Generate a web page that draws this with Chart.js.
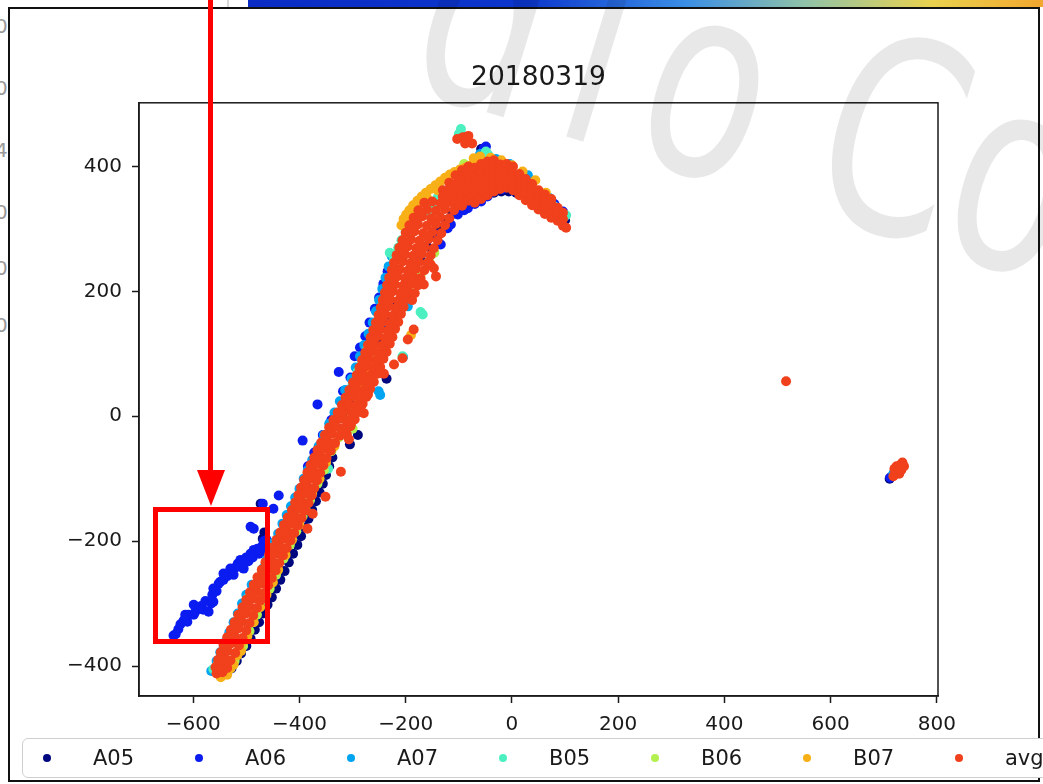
<!DOCTYPE html>
<html>
<head>
<meta charset="utf-8">
<title>20180319</title>
<script src="https://cdn.jsdelivr.net/npm/chart.js@4.4.0/dist/chart.umd.min.js"></script>
<style>
  html, body { margin: 0; padding: 0; background: #fff; }
  #page { position: relative; width: 1043px; height: 784px; overflow: hidden; background: #fff; font-family: "DejaVu Sans", sans-serif; }
  #topbar { position: absolute; left: 248px; top: 0; width: 795px; height: 7px;
    background: linear-gradient(to right, #0a2cc4 0%, #0c36cc 35%, #3a8ee6 55%, #8fc2a8 70%, #ead24e 86%, #f2a62e 100%); }
  #topline { position: absolute; left: 227px; top: 0; width: 2px; height: 7px; background: #d8d8d8; }
  #frame { position: absolute; left: 8px; top: 7px; width: 1032px; height: 775px; box-sizing: border-box; border: 2px solid #111; }
  .edge { position: absolute; left: -5px; color: #9a9a9a; font-size: 20px; line-height: 20px; }
  #chart { position: absolute; left: 0; top: 0; }
  #legend { position: absolute; left: 22px; top: 738px; width: 1060px; height: 40px; box-sizing: border-box;
    border: 1.5px solid #cfcfcf; border-radius: 6px; background: #fff; }
  .item { position: absolute; top: 0; height: 38px; line-height: 38px; font-size: 21px; color: #1a1a1a; }
  .dot { position: absolute; width: 8px; height: 8px; border-radius: 50%; top: 15px; }
  #overlay { position: absolute; left: 0; top: 0; pointer-events: none; }
</style>
</head>
<body>
<div id="page">
  <div id="topline"></div>
  <div id="topbar"></div>
  <div class="edge" style="top:16px">0</div>
  <div class="edge" style="top:78px">0</div>
  <div class="edge" style="top:140px">4</div>
  <div class="edge" style="top:202px">0</div>
  <div class="edge" style="top:258px">0</div>
  <div class="edge" style="top:315px">0</div>
  <div id="frame"></div>
  <canvas id="chart" width="1043" height="784"></canvas>
  <div id="legend"></div>
  <svg id="overlay" width="1043" height="784">
    <text transform="translate(401,86) rotate(17) scale(0.73,1)" font-family="DejaVu Sans" font-size="270" fill="rgba(0,0,0,0.09)">d<tspan dx="40">i</tspan><tspan dx="35">o Co</tspan></text>
    <line x1="210.5" y1="0" x2="210.5" y2="474" stroke="#ff0000" stroke-width="5"/>
    <polygon points="197,470 225,470 211,506" fill="#ff0000"/>
    <rect x="155.5" y="509.5" width="112" height="132" fill="none" stroke="#ff0000" stroke-width="5"/>
  </svg>
</div>
<script>
const chartTitle = '20180319';
const seriesNames = ['A05', 'A06', 'A07', 'B05', 'B06', 'B07', 'avg'];
const seriesColors = ['#00087f', '#0a1cf0', '#00a4f0', '#4cf0c0', '#b4f050', '#f8b018', '#f0401c'];
const xTicks = [-600, -400, -200, 0, 200, 400, 600, 800];
const yTicks = [-400, -200, 0, 200, 400];
const xMin = -702, xMax = 802;
const yMin = -448, yMax = 502;

const a05Pts = [
  [-528,-404],[-518,-392],[-510,-380],[-500,-368],[-492,-356],[-484,-342],[-476,-330],[-468,-316],[-460,-302],[-452,-290],
  [-444,-276],[-436,-262],[-428,-248],[-420,-234],[-412,-220],[-404,-206],[-397,-192],[-390,-178],[-383,-164],[-376,-150],
  [-369,-136],[-362,-122],[-356,-108],[-350,-94],[-344,-80],[-338,-66],[-318,-20],[-306,0],[-296,18],[-284,38],
  [-272,58],[-262,78],[-252,98],[-243,118],[-234,138],[-226,158],[-216,178],[-206,198],[-196,218],[-184,238],
  [-172,256],[-160,272],[-148,288],[-136,302],[-124,314],[-112,324],[-100,332],[-88,338],[-76,344],[-62,350],
  [-48,356],[-34,358],[-20,360],[-6,360],[8,358],[22,356],[36,352],[50,346],[64,338],[78,330],[92,320],[100,314],
  [-473,-140],[-469,-196],[-466,-186],[-305,-45],[-290,-30],[-236,60],[-86,440],[-58,428],
  [711,-100],[716,-96],[722,-92],[728,-88],[734,-82]
];
const a06Pts = [
  [-637,-351],[-628,-341],[-633,-349],[-624,-333],[-618,-327],[-611,-329],[-609,-318],[-615,-318],[-599,-318],[-596,-313],
  [-599,-302],[-592,-308],[-585,-304],[-581,-310],[-577,-296],[-571,-313],[-566,-300],[-562,-297],[-564,-286],[-562,-276],
  [-556,-280],[-552,-268],[-549,-265],[-543,-262],[-543,-252],[-536,-256],[-530,-250],[-530,-244],[-524,-254],[-520,-242],
  [-516,-236],[-511,-241],[-511,-230],[-505,-232],[-505,-244],[-500,-226],[-496,-232],[-492,-220],[-488,-226],[-486,-214],
  [-479,-212],[-476,-220],[-473,-217],[-470,-208],[-467,-200],[-464,-206],[-462,-198],
  [-492,-177],[-486,-180],[-469,-140],[-449,-148],[-439,-127],[-394,-39],[-366,19],
  [-384,-80],[-372,-58],[-356,-30],[-340,-6],[-326,71],[-318,40],[-304,62],[-296,96],[-286,110],[-276,128],
  [-268,150],[-258,172],[-250,190],[-242,212],[-234,232],
  [-134,275],[-138,291],[-121,301],[-115,307],[-102,323],[-90,330],[-83,333],[-70,340],[-58,344],[-46,352],
  [-34,360],[-18,364],[2,362],[23,365],[36,360],[49,360],[62,350],[80,340],[96,328],[-49,432],[-53,429],
  [712,-98],[720,-90]
];
const a07Pts = [
  [-566,-408],[-556,-392],[-549,-378],[-540,-362],[-532,-346],[-524,-330],[-516,-316],[-508,-300],[-500,-286],[-490,-270],
  [-469,-244],[-462,-230],[-455,-216],[-448,-202],[-440,-188],[-432,-172],[-424,-158],[-416,-144],[-408,-130],[-400,-116],
  [-392,-100],[-384,-86],[-376,-70],[-364,-48],[-354,-30],[-344,-12],[-334,6],[-324,24],[-314,42],[-302,60],
  [-294,78],[-286,96],[-278,114],[-270,132],[-262,150],[-256,168],[-250,186],[-244,204],[-238,222],[-232,240],[-226,256],
  [-196,176],[-251,40],[-248,34],[-205,95],[-178,210],
  [-96,452],[-60,420],[-30,412],[-4,404],[30,386],[70,350],[98,320],
  [718,-92]
];
const b05Pts = [
  [-230,262],[-222,253],[-214,270],[-208,282],[-200,296],[-191,306],[-182,316],[-160,326],[-150,340],[-140,350],
  [-562,-405],[-552,-398],[-544,-384],[-498,-292],[-484,-276],[-476,-262],[-446,-210],[-420,-166],[-404,-136],[-380,-92],
  [-366,-64],[-350,-36],[-338,-16],[-310,30],[-300,50],[-290,72],[-282,88],[-272,108],[-262,128],[-250,160],[-244,178],[-238,196],
  [-168,163],[-172,167],[-280,30],[-206,96],
  [-96,460],[-49,424],[-44,418],[-100,452],[97,318],[102,322],[80,336],
  [-455,-260],[-440,-236],[-398,-156],[-346,-84],
  [724,-88]
];
const b06Pts = [
  [-540,-412],[-530,-404],[-522,-392],[-506,-368],[-494,-344],[-480,-318],[-466,-294],[-456,-276],[-444,-254],[-430,-228],
  [-418,-206],[-406,-184],[-394,-160],[-380,-134],[-366,-108],[-354,-86],[-340,-56],[-326,-34],[-310,-8],[-296,14],
  [-282,36],[-268,58],[-256,84],[-244,106],[-232,126],[-222,146],[-210,168],[-196,190],[-184,212],[-170,230],[-156,248],[-146,262],
  [-270,44],[-300,-20],
  [-90,404],[-40,392],[10,372],[60,340],
  [726,-84]
];
const b07Pts = [
  [-208,306],[-204,316],[-199,323],[-193,330],[-186,338],[-178,345],[-170,352],[-162,358],[-153,364],[-144,370],
  [-135,376],[-126,382],[-117,387],[-108,391],[-98,395],[-88,398],[-78,401],[-66,405],[-55,408],
  [-200,312],[-190,326],[-180,336],[-160,350],[-140,362],[-120,378],
  [-72,413],[-60,416],[-40,414],[-20,410],[0,402],[20,392],[44,378],[64,358],
  [-554,-398],[-543,-410],[-548,-418],[-536,-414],[-530,-404],[-524,-398],[-517,-383],[-510,-376],[-508,-362],
  [-498,-352],[-486,-330],[-474,-306],[-462,-286],[-450,-266],[-440,-246],[-426,-222],[-414,-198],[-400,-174],[-388,-150],
  [-376,-124],[-362,-100],[-350,-74],[-334,-48],[-318,-24],[-302,0],[-288,24],[-276,48],[-264,70],[-252,94],
  [-240,114],[-230,132],[-218,152],
  [-190,130],[-175,220],
  [730,-80]
];
const avgPts = [
  [-556,-412],[-545,-410],
  [-558,-402],[-546,-400],[-536,-403],
  [-553,-390],[-541,-388],[-530,-391],
  [-548,-378],[-535,-376],[-521,-379],
  [-543,-366],[-529,-364],[-514,-367],
  [-536,-354],[-522,-352],[-507,-355],
  [-529,-342],[-515,-340],[-500,-343],
  [-522,-330],[-508,-329],[-494,-331],
  [-515,-318],[-501,-316],[-487,-319],
  [-507,-306],[-494,-305],[-480,-307],
  [-500,-294],[-487,-292],[-473,-295],
  [-493,-282],[-480,-281],[-466,-283],
  [-486,-270],[-472,-268],[-459,-271],
  [-479,-258],[-465,-257],[-452,-259],
  [-471,-246],[-458,-244],[-445,-247],
  [-464,-234],[-451,-233],[-438,-235],
  [-457,-222],[-444,-220],[-431,-223],
  [-450,-210],[-437,-209],[-424,-211],
  [-443,-198],[-430,-196],[-417,-199],
  [-436,-186],[-423,-185],[-410,-187],
  [-429,-174],[-416,-172],[-403,-175],
  [-422,-162],[-409,-161],[-396,-163],
  [-414,-150],[-402,-148],[-389,-151],
  [-408,-138],[-396,-137],[-383,-139],
  [-402,-126],[-390,-124],[-377,-127],
  [-397,-114],[-385,-113],[-372,-115],
  [-391,-102],[-379,-100],[-367,-103],
  [-385,-90],[-373,-89],[-361,-91],
  [-379,-78],[-367,-76],[-355,-79],
  [-372,-66],[-361,-65],[-349,-67],
  [-366,-54],[-354,-52],[-341,-55],
  [-359,-42],[-347,-41],[-333,-43],
  [-352,-30],[-339,-28],[-324,-31],[-311,-29],
  [-344,-18],[-331,-17],[-316,-19],[-304,-16],
  [-336,-6],[-322,-4],[-309,-7],[-296,-5],
  [-328,6],[-315,8],[-301,5],[-288,7],
  [-320,18],[-307,19],[-294,17],[-281,20],
  [-313,30],[-300,32],[-287,29],[-274,31],
  [-306,42],[-293,43],[-280,41],[-267,44],
  [-299,54],[-286,56],[-273,53],[-260,55],
  [-292,66],[-280,67],[-267,65],[-253,68],
  [-287,78],[-274,80],[-261,77],[-248,79],
  [-282,90],[-269,91],[-256,89],[-242,92],
  [-276,102],[-263,104],[-250,101],[-236,103],
  [-271,114],[-258,115],[-245,113],[-230,116],
  [-266,126],[-253,128],[-239,125],[-225,127],
  [-261,138],[-248,139],[-234,137],[-220,140],
  [-256,150],[-243,152],[-229,149],[-214,151],
  [-251,162],[-238,163],[-224,161],[-209,164],
  [-247,174],[-233,176],[-219,173],[-204,175],
  [-243,186],[-229,187],[-214,185],[-199,188],[-188,186],
  [-239,198],[-225,200],[-210,197],[-195,199],[-183,197],
  [-235,210],[-220,211],[-205,209],[-190,212],[-177,210],
  [-231,222],[-216,224],[-201,221],[-186,223],[-172,221],
  [-226,234],[-211,235],[-196,233],[-181,236],[-165,234],
  [-222,246],[-206,248],[-191,245],[-175,247],[-159,245],
  [-217,258],[-201,259],[-186,257],[-170,260],[-153,258],
  [-212,270],[-196,272],[-180,269],[-164,271],[-147,269],
  [-206,282],[-190,283],[-174,281],[-157,284],[-140,282],
  [-200,294],[-184,296],[-167,293],[-150,295],[-133,293],
  [-193,306],[-177,307],[-160,305],[-143,308],[-126,306],
  [-185,318],[-169,320],[-152,317],[-135,319],[-118,317],
  [-176,330],[-160,331],[-143,329],[-126,332],[-109,330],
  [-165,342],[-150,344],[-134,341],[-117,343],[-100,341],
  [-130,352],[-130,362],[-118,348],[-118,362],[-118,374],
  [-106,344],[-106,358],[-106,372],[-106,386],
  [-94,337],[-94,352],[-94,366],[-94,380],[-94,394],
  [-82,345],[-82,360],[-82,374],[-82,388],[-82,400],
  [-70,342],[-70,356],[-70,370],[-70,384],[-70,398],
  [-58,348],[-58,362],[-58,376],[-58,390],[-58,404],
  [-46,354],[-46,368],[-46,382],[-46,396],[-46,408],
  [-34,360],[-34,373],[-34,387],[-34,400],[-34,410],
  [-22,364],[-22,377],[-22,390],[-22,403],
  [-10,366],[-10,379],[-10,392],[-10,404],
  [2,362],[2,375],[2,388],[2,400],
  [14,354],[14,366],[14,378],[14,388],
  [26,346],[26,358],[26,370],[26,380],
  [38,338],[38,350],[38,362],[38,372],
  [50,331],[50,342],[50,354],[50,362],
  [62,324],[62,335],[62,346],[62,355],
  [74,318],[74,329],[74,340],[74,348],
  [86,313],[86,323],[86,334],
  [96,305],[96,316],[96,326],[102,302],
  [-103,444],[-92,447],[-82,449],[-75,437],[-88,437],
  [-153,243],[-143,224],[-166,211],[-185,139],[-196,123],[-206,93],[-222,83],[-241,68],[-271,51],[-279,5],
  [-303,-12],[-271,35],[-285,11],[-307,-37],[-322,-89],[-351,-129],[-375,-156],[-385,-180],[-147,237],[-157,247],
  [516,56],
  [718,-96],[722,-90],[727,-84],[731,-78],[735,-74],[724,-80],[729,-92],[733,-86],[720,-84],[738,-80]
];
const seriesPoints = [a05Pts, a06Pts, a07Pts, b05Pts, b06Pts, b07Pts, avgPts];

const fmtTick = v => (v < 0 ? '\u2212' + Math.abs(v) : String(v));
const inkColor = '#1a1a1a';
const tickFont = { family: 'DejaVu Sans', size: 20 };

// box around the axes like matplotlib spines
const spinesPlugin = {
  id: 'spines',
  afterDatasetsDraw(chart) {
    const { ctx, chartArea: a } = chart;
    ctx.save();
    ctx.strokeStyle = inkColor;
    ctx.lineWidth = 1.5;
    ctx.strokeRect(a.left, a.top, a.right - a.left, a.bottom - a.top);
    ctx.restore();
  }
};

const chart = new Chart(document.getElementById('chart'), {
  type: 'scatter',
  data: {
    datasets: seriesNames.map((name, i) => ({
      label: name,
      data: seriesPoints[i].map(p => ({ x: p[0], y: p[1] })),
      backgroundColor: seriesColors[i],
      borderWidth: 0,
      pointRadius: 5,
      order: seriesNames.length - 1 - i
    }))
  },
  options: {
    responsive: false,
    animation: false,
    layout: { padding: { left: 0, right: 105, top: 0, bottom: 0 } },
    plugins: {
      legend: { display: false },
      tooltip: { enabled: false },
      title: {
        display: true, text: chartTitle, fullSize: false, color: inkColor,
        font: { family: 'DejaVu Sans', size: 26.5, weight: 'normal' },
        padding: { top: 62, bottom: 9 }
      }
    },
    scales: {
      x: {
        type: 'linear', min: xMin, max: xMax,
        afterFit: s => { s.height = 88; },
        afterBuildTicks: s => { s.ticks = xTicks.map(v => ({ value: v })); },
        grid: { drawOnChartArea: false, drawTicks: true, tickLength: 7, tickColor: inkColor, tickWidth: 1.5 },
        border: { display: true, color: inkColor, width: 1.5 },
        ticks: { color: inkColor, font: tickFont, padding: 10, maxRotation: 0, autoSkip: false, callback: fmtTick }
      },
      y: {
        type: 'linear', min: yMin, max: yMax,
        afterFit: s => { s.width = 139; },
        afterBuildTicks: s => { s.ticks = yTicks.map(v => ({ value: v })); },
        grid: { drawOnChartArea: false, drawTicks: true, tickLength: 7, tickColor: inkColor, tickWidth: 1.5 },
        border: { display: true, color: inkColor, width: 1.5 },
        ticks: { color: inkColor, font: tickFont, padding: 10, autoSkip: false, callback: fmtTick }
      }
    }
  },
  plugins: [spinesPlugin]
});

// legend in one row under the axes
const legendBox = document.getElementById('legend');
legendBox.innerHTML = chart.data.datasets.map((ds, i) => `
  <div class="dot" style="left:${20 + i * 152}px;background:${ds.backgroundColor}"></div>
  <div class="item" style="left:${70 + i * 152}px">${ds.label}</div>
`).join('');
</script>
</body>
</html>
